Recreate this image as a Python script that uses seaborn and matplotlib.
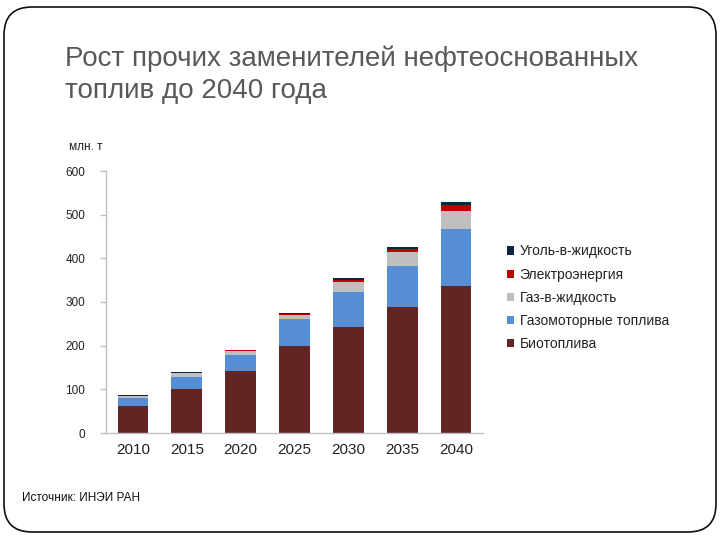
import matplotlib
matplotlib.use("Agg")
import matplotlib.pyplot as plt
import matplotlib.transforms as mtransforms
from matplotlib.patches import FancyBboxPatch, Patch
import seaborn as sns
import numpy as np

years = ["2010", "2015", "2020", "2025", "2030", "2035", "2040"]
biofuels = [61, 101, 143, 199, 243, 288, 336]
gas_motor = [19, 28, 36, 61, 79, 95, 132]
gas_to_liquid = [5, 8, 8, 11, 24, 31, 41]
electricity = [0, 0, 2, 1, 4, 7, 12]
coal_to_liquid = [1, 3, 2, 3, 5, 5, 9]

series_names = ["Биотоплива", "Газомоторные топлива", "Газ-в-жидкость",
                "Электроэнергия", "Уголь-в-жидкость"]
series_colors = ["#632523", "#558ED5", "#BFBFBF", "#C00000", "#0F243E"]
yticks = [0, 100, 200, 300, 400, 500, 600]
title_lines = ["Рост прочих заменителей нефтеоснованных", "топлив до 2040 года"]

sns.set_theme(style="white")
plt.rcParams['font.family'] = ['Liberation Sans', 'DejaVu Sans']

W, H = 720, 540
fig = plt.figure(figsize=(7.2, 5.4), dpi=100)
ax = fig.add_axes([106 / W, 1 - 433 / H, (483 - 106) / W, (433 - 171) / H])

stack = [biofuels, gas_motor, gas_to_liquid, electricity, coal_to_liquid]
cum = np.cumsum(np.array(stack, dtype=float), axis=0)
for i in range(len(stack) - 1, -1, -1):
    sns.barplot(x=years, y=cum[i], color=series_colors[i], saturation=1,
                width=0.57, linewidth=0, ax=ax)

ax.set_ylim(0, 600)
ax.set_xlim(-0.5, 6.5)
ax.set_yticks(yticks)
ax.set_yticklabels([str(v) for v in yticks])
ax.set_xlabel("")
ax.set_ylabel("")
for s in ["top", "right"]:
    ax.spines[s].set_visible(False)
for s in ["left", "bottom"]:
    ax.spines[s].set_color("#BFBFBF")
    ax.spines[s].set_linewidth(1.0)
ax.tick_params(axis="y", length=4, width=1, color="#BFBFBF", labelsize=8.5,
               labelcolor="#222222", pad=11, left=True)
ax.tick_params(axis="x", length=0, labelsize=11, labelcolor="#222222", pad=7)

handles = [Patch(facecolor=series_colors[i], edgecolor="none") for i in range(4, -1, -1)]
labels = [series_names[i] for i in range(4, -1, -1)]
fig.legend(handles, labels, loc="upper left", bbox_to_anchor=(494 / W, 1 - 232 / H),
           frameon=False, fontsize=10, handlelength=0.55, handleheight=0.55,
           handletextpad=0.4, labelspacing=0.66, labelcolor="#222222")

fig.text(69 / W, 1 - 150 / H, "млн. т", fontsize=8.5, color="#1a1a1a", va="baseline")

for k, (line, base) in enumerate(zip(title_lines, [65.7, 98.3])):
    fig.text(65 / W, 1 - base / H, line, fontsize=20, color="#595959",
             va="baseline", ha="left")

fig.text(22 / W, 1 - 501 / H, "Источник: ИНЭИ РАН", fontsize=8.5, color="#111111",
         va="baseline")

box = FancyBboxPatch((4, 8), 712, 525, boxstyle="round,pad=0,rounding_size=28",
                     transform=mtransforms.IdentityTransform(), facecolor="none",
                     edgecolor="#111111", linewidth=1.2)
fig.add_artist(box)

fig.savefig("out.png", dpi=100)
